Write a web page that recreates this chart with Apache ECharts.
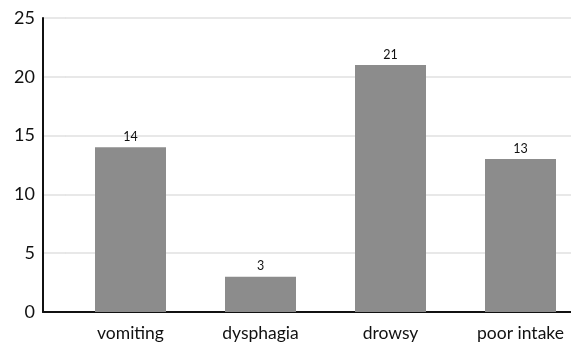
<!DOCTYPE html>
<html>
<head>
<meta charset="utf-8">
<script src="https://cdn.jsdelivr.net/npm/echarts@6/dist/echarts.min.js"></script>
<style>
html,body{margin:0;padding:0;background:#fff;}
#chart{width:571px;height:345px;}
</style>
</head>
<body>
<div id="chart"></div>
<script>
const categories = ['vomiting', 'dysphagia', 'drowsy', 'poor intake'];
const counts = [14, 3, 21, 13];
const yTicks = [0, 5, 10, 15, 20, 25];

const FONT = 'Lato';
const chart = echarts.init(document.getElementById('chart'), null, {renderer: 'canvas'});
const gridTop = 18, gridBottom = 33;
chart.setOption({
  animation: false,
  backgroundColor: '#ffffff',
  grid: [
    {left: 65.5, width: 520, top: gridTop, bottom: gridBottom, containLabel: false, outerBoundsMode: 'none'},
    {left: 43, width: 23, top: gridTop, bottom: gridBottom, containLabel: false, outerBoundsMode: 'none'}
  ],
  xAxis: [
    {
      type: 'category', gridIndex: 0, data: categories,
      axisLine: {lineStyle: {color: '#111', width: 2}},
      axisTick: {show: false},
      axisLabel: {color: '#111', fontFamily: FONT, fontSize: 17.5, margin: 12}
    },
    {
      type: 'category', gridIndex: 1, data: [''],
      axisLine: {lineStyle: {color: '#111', width: 2}},
      axisTick: {show: false}, axisLabel: {show: false}
    }
  ],
  yAxis: [
    {
      type: 'value', gridIndex: 0, min: yTicks[0], max: yTicks[yTicks.length - 1], interval: 5,
      offset: 22.5,
      axisLine: {show: true, lineStyle: {color: '#111', width: 2}},
      axisTick: {show: false},
      axisLabel: {color: '#111', fontFamily: FONT, fontSize: 18, margin: 8},
      splitLine: {lineStyle: {color: '#e0e0e0', width: 1.5}}
    },
    {
      type: 'value', gridIndex: 1, min: yTicks[0], max: yTicks[yTicks.length - 1], interval: 5,
      axisLine: {show: false}, axisTick: {show: false}, axisLabel: {show: false},
      splitLine: {lineStyle: {color: '#e0e0e0', width: 1.5}}
    }
  ],
  series: [{
    type: 'bar', xAxisIndex: 0, yAxisIndex: 0,
    data: counts,
    barWidth: 71,
    itemStyle: {color: '#8c8c8c'},
    label: {show: true, position: 'top', distance: 4, color: '#111', fontFamily: FONT, fontSize: 12.5}
  }]
});
</script>
</body>
</html>
